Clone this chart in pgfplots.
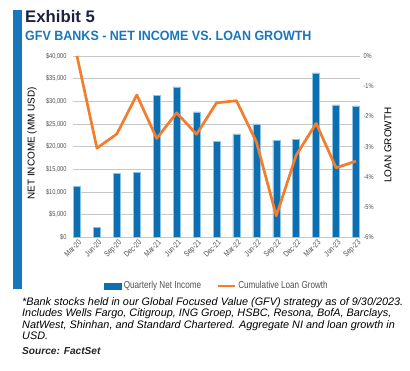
\documentclass[border=0pt]{standalone}
\usepackage{pgfplots}
\pgfplotsset{compat=1.18}
\usepackage{fontspec}
\setmainfont{Liberation Sans}
\newfontfamily\cond{Liberation Sans}[FakeStretch=0.8]
\newfontfamily\condt{Liberation Sans}[FakeStretch=0.93]
\definecolor{barblue}{RGB}{14,111,176}
\definecolor{baredge}{RGB}{140,196,230}
\definecolor{titleblue}{RGB}{24,118,188}
\definecolor{navy}{RGB}{27,33,62}
\definecolor{lineorange}{RGB}{244,124,42}
\definecolor{labgray}{RGB}{80,80,80}
\begin{document}
\begin{tikzpicture}
\path[use as bounding box] (0,0) rectangle (410bp,371bp);
\fill[titleblue] (13bp,82.3bp) rectangle (21.5bp,361bp);
\node[anchor=base west, inner sep=0, text=navy, font=\fontsize{16.8}{18}\selectfont\bfseries] at (25bp,348.3bp) {Exhibit 5};
\node[anchor=base west, inner sep=0, text=titleblue, font=\condt\fontsize{13.5}{15}\selectfont\bfseries] at (25bp,330bp) {GFV BANKS - NET INCOME VS. LOAN GROWTH};

\begin{axis}[
  at={(73bp,133.7bp)}, anchor=south west, scale only axis,
  width=287bp, height=181.3bp,
  xmin=-0.2, xmax=14.2, ymin=0, ymax=40000,
  scaled y ticks=false,
  axis line style={draw=none}, major tick length=0pt,
  ymajorgrids, grid style={black!22, line width=0.7bp},
  ytick={0,5000,10000,15000,20000,25000,30000,35000,40000},
  yticklabels={{\$0},{\$5,000},{\$10,000},{\$15,000},{\$20,000},{\$25,000},{\$30,000},{\$35,000},{\$40,000}},
  y tick label style={font=\cond\fontsize{7.1}{7.5}\selectfont, text=labgray, xshift=-3bp},
  xtick={0,...,14},
  xticklabels={Mar-20,Jun-20,Sep-20,Dec-20,Mar-21,Jun-21,Sep-21,Dec-21,Mar-22,Jun-22,Sep-22,Dec-22,Mar-23,Jun-23,Sep-23},
  x tick label style={font=\cond\fontsize{8}{9}\selectfont, text=labgray, rotate=45, anchor=north east, inner sep=0.5bp, yshift=-1.5bp},
  ylabel={NET INCOME (MM USD)},
  ylabel style={font=\cond\fontsize{11}{12}\selectfont, text=labgray},
  every axis y label/.style={at={(axis description cs:-0.143,0.518)}, rotate=90, anchor=center},
  ybar, bar width=7bp,
]
\addplot[fill=barblue, draw=baredge, line width=0.5bp] coordinates {
(0,11300) (1,2120) (2,14140) (3,14360) (4,31230) (5,33210) (6,27690) (7,21215)
(8,22830) (9,25040) (10,21440) (11,21660) (12,36300) (13,29240) (14,29020)};
\end{axis}

\begin{axis}[
  at={(73bp,133.7bp)}, anchor=south west, scale only axis,
  width=287bp, height=181.3bp,
  xmin=-0.2, xmax=14.2, ymin=-6, ymax=0,
  axis y line*=right, hide x axis,
  axis line style={draw=none}, major tick length=0pt,
  ytick={-6,-5,-4,-3,-2,-1,0},
  yticklabels={-6\%,-5\%,-4\%,-3\%,-2\%,-1\%,0\%},
  y tick label style={font=\cond\fontsize{7.1}{7.5}\selectfont, text=labgray, xshift=0bp},
  ylabel={LOAN GROWTH},
  ylabel style={font=\cond\fontsize{11}{12}\selectfont, text=labgray},
  every axis y label/.style={at={(axis description cs:1.0976,0.509)}, rotate=90, anchor=center},
  legend style={at={(axis description cs:0.502,-0.267)}, anchor=center, draw=none, fill=none,
    legend columns=2, font=\cond\fontsize{10.2}{11}\selectfont, text=labgray,
    /tikz/every even column/.append style={column sep=14bp}},
]
\addlegendimage{legend image code/.code={\fill[barblue] (0bp,-3bp) rectangle (17bp,3bp);}}
\addlegendentry{Quarterly Net Income}
\addplot[lineorange, line width=2.7bp, mark=none, line join=round,
  legend image code/.code={\draw[lineorange, line width=2.2bp] (0bp,0bp)--(17bp,0bp);}] coordinates {
(0,0) (1,-3.05) (2,-2.58) (3,-1.29) (4,-2.73) (5,-1.88) (6,-2.59) (7,-1.55)
(8,-1.48) (9,-2.84) (10,-5.29) (11,-3.28) (12,-2.23) (13,-3.70) (14,-3.48)};
\addlegendentry{Cumulative Loan Growth}
\end{axis}

\node[anchor=base west, inner sep=0, align=left, font=\itshape\fontsize{10.9}{11.3}\selectfont, text=black] at (22bp,31.5bp)
{*Bank stocks held in our Global Focused Value (GFV) strategy as of 9/30/2023.\\
Includes Wells Fargo, Citigroup, ING Groep, HSBC, Resona, BofA, Barclays,\\
NatWest, Shinhan, and Standard Chartered. Aggregate NI and loan growth in\\
USD.};
\node[anchor=base west, inner sep=0, font=\itshape\bfseries\fontsize{10.2}{11}\selectfont, text=black!85] at (22bp,16.5bp) {Source: FactSet};
\end{tikzpicture}
\end{document}
